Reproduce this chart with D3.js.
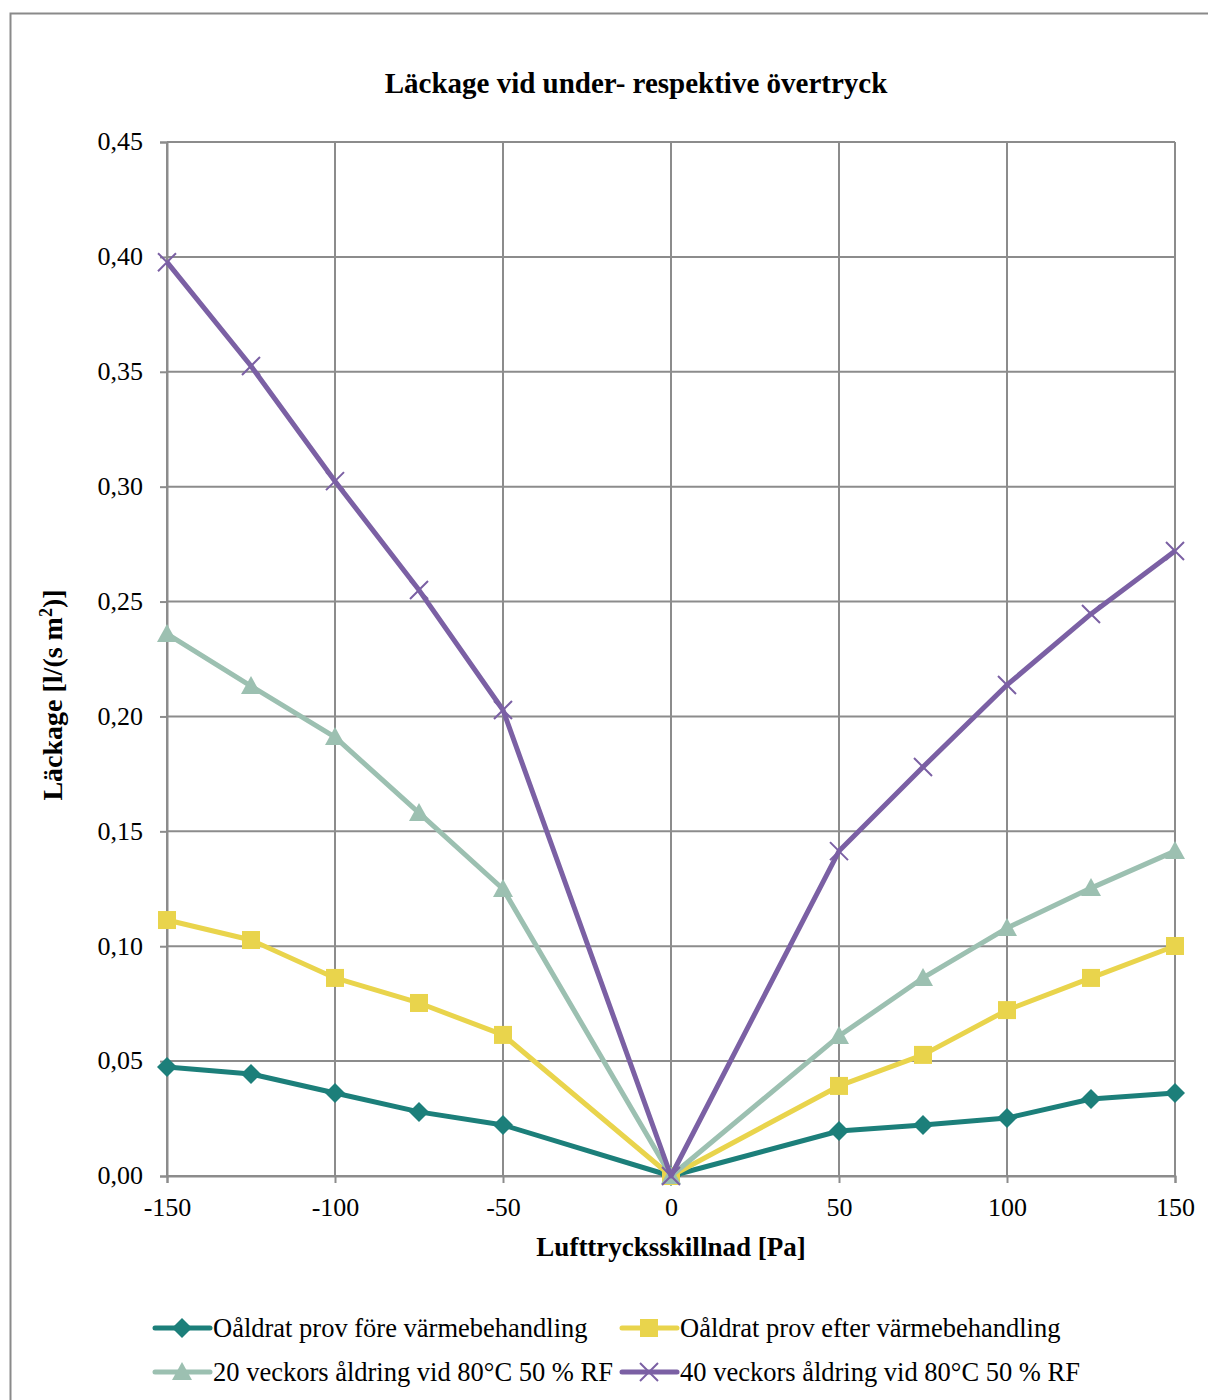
<!DOCTYPE html>
<html><head><meta charset="utf-8">
<script src="https://cdn.jsdelivr.net/npm/d3@7"></script>
<style>body{margin:0;background:#fff}svg{display:block}</style>
</head><body>
<svg id="c" width="1208" height="1400"></svg>
<script>
const pressure = [-150,-125,-100,-75,-50,0,50,75,100,125,150];
const seriesNames = ["Oåldrat prov före värmebehandling","Oåldrat prov efter värmebehandling","20 veckors åldring vid 80°C 50 % RF","40 veckors åldring vid 80°C 50 % RF"];
const foreValues = [0.0474,0.0444,0.0361,0.0279,0.0222,0,0.0196,0.0222,0.0252,0.0335,0.0361];
const efterValues = [0.1114,0.1027,0.0862,0.0753,0.0614,0,0.0392,0.0527,0.0722,0.0862,0.1001];
const v20Values = [0.2359,0.2132,0.191,0.158,0.1249,0,0.0609,0.0862,0.1079,0.1253,0.1414];
const v40Values = [0.3977,0.3525,0.3024,0.255,0.2028,0,0.1414,0.178,0.2137,0.2446,0.272];
const xTicks = [-150,-100,-50,0,50,100,150];
const yTicks = [0,0.05,0.1,0.15,0.2,0.25,0.3,0.35,0.4,0.45];
const colors = ["#1c7f7a","#e9d44c","#9cc0b1","#7b60a4"];
const symbols = ["diamond","square","triangle","cross"];

const svg = d3.select("#c");
const font = "'Liberation Serif','Times New Roman',serif";
svg.append("rect").attr("x",10.5).attr("y",13.5).attr("width",1220).attr("height",1420)
  .attr("fill","none").attr("stroke","#8a8a8a").attr("stroke-width",2);

const L=167,R=1175,T=142,B=1176;
const x = d3.scaleLinear().domain([-150,150]).range([L,R]);
const y = d3.scaleLinear().domain([0,0.45]).range([B,T]);
const fmt = d => d3.format(".2f")(d).replace(".",",");

const g = svg.append("g");
g.selectAll(".gx").data(xTicks).join("line").attr("x1",d=>x(d)).attr("x2",d=>x(d)).attr("y1",T).attr("y2",B)
  .attr("stroke","#8c8c8c").attr("stroke-width",2);
g.selectAll(".gy").data(yTicks).join("line").attr("x1",L).attr("x2",R).attr("y1",d=>y(d)).attr("y2",d=>y(d))
  .attr("stroke","#8c8c8c").attr("stroke-width",2);

const xa = g.append("g").attr("transform",`translate(0,${B})`)
  .call(d3.axisBottom(x).tickValues(xTicks).tickSize(7).tickPadding(13).tickFormat(d=>String(d)));
const ya = g.append("g").attr("transform",`translate(${L},0)`)
  .call(d3.axisLeft(y).tickValues(yTicks).tickSize(7).tickPadding(17).tickFormat(fmt));
[xa,ya].forEach(a=>{
  a.select(".domain").attr("stroke","#8c8c8c").attr("stroke-width",2);
  a.selectAll(".tick line").attr("stroke","#8c8c8c").attr("stroke-width",2);
  a.selectAll("text").attr("font-family",font).attr("font-size",26).attr("fill","#000");
});
ya.selectAll("text").attr("dy","0.3em");
xa.selectAll("text").attr("dy","0.75em");

const all = [foreValues,efterValues,v20Values,v40Values];
const line = d3.line().x((d,i)=>x(pressure[i])).y(d=>y(d));

function marker(sel, k, cx, cy){
  const c = colors[k];
  if(symbols[k]==="diamond"){
    sel.append("path").attr("d",`M${cx},${cy-10}L${cx+10},${cy}L${cx},${cy+10}L${cx-10},${cy}Z`).attr("fill",c);
  } else if(symbols[k]==="square"){
    sel.append("rect").attr("x",cx-9).attr("y",cy-9).attr("width",18).attr("height",18).attr("fill",c);
  } else if(symbols[k]==="triangle"){
    sel.append("path").attr("d",`M${cx},${cy-10}L${cx+10},${cy+8}L${cx-10},${cy+8}Z`).attr("fill",c);
  } else {
    sel.append("path").attr("d",`M${cx-9},${cy-9}L${cx+9},${cy+9}M${cx-9},${cy+9}L${cx+9},${cy-9}`)
      .attr("stroke",c).attr("stroke-width",2).attr("fill","none");
  }
}

all.forEach((vals,k)=>{
  const sg = g.append("g");
  sg.append("path").datum(vals).attr("d",line).attr("fill","none").attr("stroke",colors[k])
    .attr("stroke-width",5).attr("stroke-linejoin","round");
  vals.forEach((v,i)=>marker(sg,k,x(pressure[i]),y(v)));
});

svg.append("text").attr("x",636).attr("y",93).attr("text-anchor","middle").attr("font-family",font)
  .attr("font-weight","bold").attr("font-size",29).text("Läckage vid under- respektive övertryck");
svg.append("text").attr("x",671).attr("y",1256).attr("text-anchor","middle").attr("font-family",font)
  .attr("font-weight","bold").attr("font-size",27).text("Lufttrycksskillnad [Pa]");
const yt = svg.append("text").attr("transform","translate(62,695) rotate(-90)").attr("text-anchor","middle")
  .attr("font-family",font).attr("font-weight","bold").attr("font-size",28);
yt.append("tspan").text("Läckage [l/(s m");
yt.append("tspan").attr("baseline-shift","super").attr("font-size",18).text("2");
yt.append("tspan").text(")]");

const legPos = [[155,1328],[622,1328],[155,1372],[622,1372]];
seriesNames.forEach((n,k)=>{
  const [lx,ly] = legPos[k];
  const lg = svg.append("g");
  lg.append("line").attr("x1",lx).attr("x2",lx+55).attr("y1",ly).attr("y2",ly).attr("stroke",colors[k])
    .attr("stroke-width",5).attr("stroke-linecap","round");
  marker(lg,k,lx+27,ly);
  lg.append("text").attr("x",lx+58).attr("y",ly+9).attr("font-family",font).attr("font-size",26.5).text(n);
});
</script>
</body></html>
